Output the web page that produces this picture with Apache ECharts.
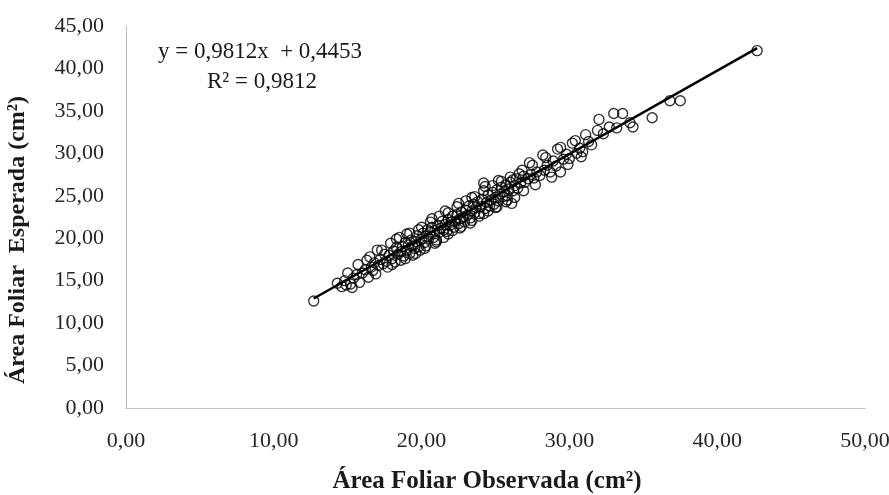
<!DOCTYPE html>
<html>
<head>
<meta charset="utf-8">
<script src="https://cdn.jsdelivr.net/npm/echarts@6/dist/echarts.min.js"></script>
<style>
  html, body { margin: 0; padding: 0; background: #fff; }
  #chart { width: 889px; height: 495px; }
</style>
</head>
<body>
<div id="chart"></div>
<script>
var pontos = [
  [12.7,12.6],
  [14.3,14.7],[14.6,14.3],[14.8,15.0],[15.0,15.9],[15.2,14.6],[15.4,15.3],[15.6,15.7],[15.8,14.8],[16.0,15.9],
  [16.2,16.3],[16.3,17.4],[16.4,15.4],[16.6,16.6],[16.7,16.2],[16.8,17.1],[17.0,18.6],[17.1,16.8],[17.2,17.5],[17.4,17.0],
  [17.5,18.1],[17.6,17.3],[17.8,18.0],[17.9,19.4],[18.0,17.6],[18.1,18.5],[18.2,17.2],[18.3,18.9],[18.4,18.1],[18.5,20.1],
  [18.6,18.4],[18.7,19.0],[18.8,17.9],[18.9,19.5],[19.0,18.6],[19.1,19.2],[19.2,18.2],[19.3,19.8],[19.4,19.1],[19.5,18.8],
  [19.6,19.6],[19.7,20.3],[19.8,19.0],[19.9,18.6],[20.0,19.9],[20.1,20.6],[20.2,19.5],[20.3,20.2],[20.4,21.0],[20.5,20.0],
  [20.6,20.7],[20.7,21.3],[20.8,20.1],[20.9,20.9],[21.0,19.6],[21.1,21.5],[21.2,20.7],[21.3,21.2],[21.4,22.0],[21.5,21.0],
  [21.6,21.6],[21.7,20.8],[21.8,22.2],[21.9,21.5],[22.0,21.9],[22.1,22.6],[22.2,21.3],[22.3,22.0],[22.4,22.8],[22.5,21.7],
  [22.6,22.3],[22.7,23.1],[22.8,22.5],[22.9,21.9],[23.0,23.3],[23.1,22.7],[23.2,23.8],[23.3,22.4],[23.4,23.2],[23.5,24.0],
  [23.6,23.0],[23.7,23.6],[23.8,24.3],[23.9,22.9],[24.0,23.7],[24.1,24.6],[24.2,26.5],[24.3,23.5],[24.4,24.2],[24.5,25.1],
  [24.6,23.8],[24.7,24.5],[24.8,25.4],[24.9,24.0],[25.0,24.8],[25.1,25.7],[25.2,24.4],[25.3,25.2],[25.4,26.0],[25.5,24.9],
  [25.6,25.5],[25.7,26.3],[25.8,25.0],[25.9,25.8],[26.0,26.6],[26.1,24.1],[26.2,25.6],[26.3,26.2],[26.4,27.0],[26.5,25.9],
  [26.7,26.5],[26.9,27.3],[27.0,26.6],[27.2,27.0],[27.3,28.9],[27.4,27.5],[27.6,27.1],[27.8,27.8],[28.0,27.4],[28.2,29.8],
  [28.3,28.0],[28.5,28.6],[28.7,27.8],[28.9,29.1],[29.1,28.5],[29.4,30.7],[29.4,27.8],[29.6,29.3],[29.8,29.9],[30.0,29.4],
  [30.2,31.2],[30.5,30.0],[30.7,30.6],[30.9,30.2],[31.1,32.2],[31.3,31.4],[31.5,31.0],[31.9,32.7],[32.0,34.0],[32.3,32.3],
  [32.7,33.1],[33.0,34.7],[33.2,33.0],[33.6,34.7],[34.1,33.6],[34.3,33.1],[35.6,34.2],[36.8,36.2],[37.5,36.2],[42.7,42.1],
  [17.3,18.6],[17.7,16.6],[18.3,19.9],[18.9,17.6],[19.2,20.6],[19.6,18.2],[20.0,21.3],[20.3,19.1],[20.6,21.9],[20.9,19.4],
  [21.2,22.6],[21.5,20.1],[21.8,23.0],[22.1,20.9],[22.4,23.7],[22.7,21.4],[23.0,24.4],[23.3,21.8],[23.6,24.9],[23.9,22.6],
  [24.2,25.6],[24.5,23.2],[24.8,26.2],[25.1,23.7],[25.4,26.7],[25.7,24.3],[26.0,27.2],[26.3,24.8],[26.6,27.6],[26.9,25.6],
  [19.0,20.5],[19.8,21.0],[20.7,22.3],[21.6,23.2],[22.5,24.1],[23.4,24.8],[24.3,26.1],[25.2,26.8],[18.0,16.9],[18.6,17.4],
  [19.4,18.0],[20.2,18.8],[21.0,19.8],[21.8,20.5],[22.6,21.2],[23.4,22.1],[24.2,22.9],[25.0,23.6],[25.8,24.5],[16.5,17.8],
  [16.9,15.8],[15.7,16.9],[15.3,14.2],[14.9,14.5],[27.5,28.6],[27.7,26.3],[28.4,29.5],[28.8,27.2],[29.2,30.5],[29.9,28.7],
  [30.4,31.5],[30.8,29.6],[26.8,28.0],[26.2,26.9]
];

// linha de tendência (extremos)
var tendencia = [[12.7, 12.9], [42.7, 42.4]];

var equacao = 'y = 0,9812x  + 0,4453';
var r2 = 'R² = 0,9812';
var nomeX = 'Área Foliar Observada (cm²)';
var nomeY = 'Área Foliar  Esperada (cm²)';

var fonte = '"Liberation Serif", "Times New Roman", serif';

function virgula(v) {
  return v.toFixed(2).replace('.', ',');
}

var myChart = echarts.init(document.getElementById('chart'));

var option = {
  animation: false,
  grid: { left: 126, right: 24, top: 26, bottom: 87, outerBoundsMode: 'none' },
  xAxis: {
    type: 'value',
    min: 0, max: 50, interval: 10,
    axisLine: { lineStyle: { color: '#bfbfbf', width: 1 } },
    axisTick: { show: false },
    splitLine: { show: false },
    axisLabel: { formatter: virgula, fontFamily: fonte, fontSize: 22, color: '#262626', margin: 22 }
  },
  yAxis: {
    type: 'value',
    min: 0, max: 45, interval: 5,
    axisLine: { show: true, lineStyle: { color: '#bfbfbf', width: 1 } },
    axisTick: { show: false },
    splitLine: { show: false },
    axisLabel: { formatter: virgula, fontFamily: fonte, fontSize: 22, color: '#262626', margin: 22 }
  },
  graphic: [
    {
      type: 'text', x: 487, y: 482,
      style: { text: nomeX, fontFamily: fonte, fontSize: 25, fontWeight: 'bold', fill: '#1a1a1a',
               align: 'center', verticalAlign: 'middle' }
    },
    {
      type: 'text', x: 18, y: 240, rotation: Math.PI / 2,
      style: { text: nomeY, fontFamily: fonte, fontSize: 24, fontWeight: 'bold', fill: '#1a1a1a',
               align: 'center', verticalAlign: 'middle' }
    },
    {
      type: 'text', x: 260, y: 52,
      style: { text: equacao, fontFamily: fonte, fontSize: 23, fill: '#1a1a1a', align: 'center', verticalAlign: 'middle' }
    },
    {
      type: 'text', x: 262, y: 82,
      style: { text: r2, fontFamily: fonte, fontSize: 23, fill: '#1a1a1a', align: 'center', verticalAlign: 'middle' }
    }
  ],
  series: [
    {
      type: 'scatter',
      data: pontos,
      symbol: 'circle',
      symbolSize: 10,
      itemStyle: { color: 'rgba(0,0,0,0)', borderColor: '#000', borderWidth: 1.4 },
      z: 2
    },
    {
      type: 'line',
      data: tendencia,
      symbol: 'none',
      lineStyle: { color: '#000', width: 2.5 },
      z: 3
    }
  ]
};

myChart.setOption(option);
</script>
</body>
</html>
